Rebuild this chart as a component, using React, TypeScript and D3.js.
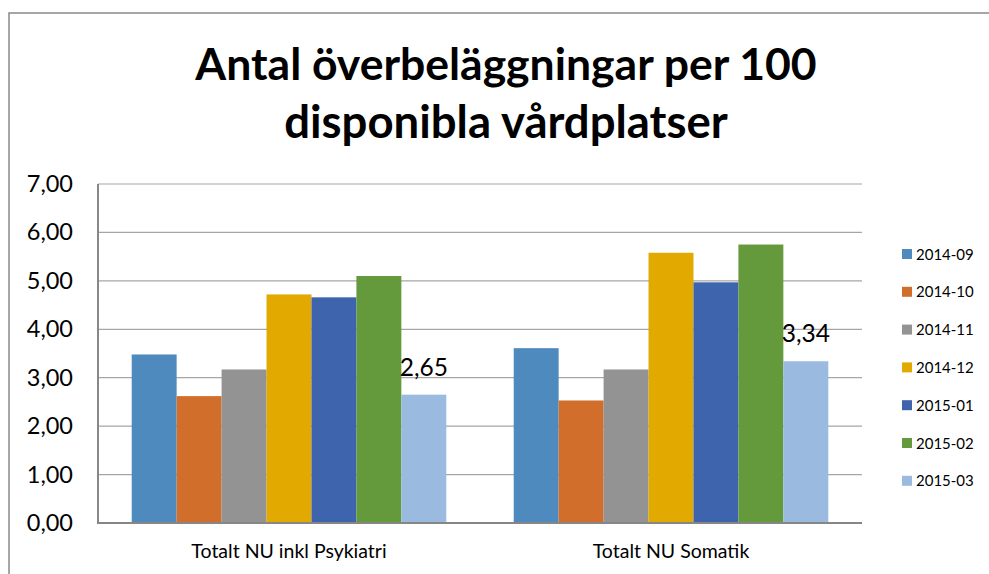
import React from "react";
import * as d3 from "d3";

const categories = ["Totalt NU inkl Psykiatri", "Totalt NU Somatik"];
const seriesNames = ["2014-09", "2014-10", "2014-11", "2014-12", "2015-01", "2015-02", "2015-03"];
const values = [
  [3.48, 3.61],
  [2.62, 2.53],
  [3.17, 3.17],
  [4.72, 5.58],
  [4.66, 4.97],
  [5.1, 5.75],
  [2.65, 3.34],
];
const colors = ["#4f8abe", "#d26e2b", "#939393", "#e2a900", "#3d64ac", "#64993c", "#9abae0"];
const yTicks = [0, 1, 2, 3, 4, 5, 6, 7];
const labelledSeries = [6];

const W = 989;
const H = 574;
const margin = { left: 98, right: 127, top: 184, bottom: 51 };
const font = "Lato, 'Open Sans', sans-serif";

export default function App() {
  const x0 = d3
    .scaleBand()
    .domain(categories)
    .range([margin.left, W - margin.right])
    .paddingInner(0)
    .paddingOuter(0);
  // Excel gap width 150%: inner bars occupy 7 / 8.5 of a category
  const inner = (x0.bandwidth() * 7) / 8.5;
  const x1 = d3
    .scaleBand()
    .domain(seriesNames)
    .range([0, inner]);
  const y = d3.scaleLinear().domain([0, 7]).range([H - margin.bottom, margin.top]);
  const fmt = (v: number) => v.toFixed(2).replace(".", ",");

  return (
    <svg width={W} height={H} style={{ position: "absolute", left: 0, top: 0, background: "#fff" }}>
      <rect x={9} y={13} width={W} height={H} fill="#fff" stroke="#898989" strokeWidth={1.5} />
      <text x={506} y={80} textAnchor="middle" fontFamily={font} fontWeight={700} fontSize={44.5} fill="#000">
        Antal överbeläggningar per 100
      </text>
      <text x={506} y={138} textAnchor="middle" fontFamily={font} fontWeight={700} fontSize={45.5} fill="#000">
        disponibla vårdplatser
      </text>

      {yTicks.map((t) => (
        <g key={t}>
          {t > 0 && (
            <line x1={margin.left} x2={W - margin.right} y1={y(t)} y2={y(t)} stroke="#a6a6a6" strokeWidth={1.2} />
          )}
          <text x={73} y={y(t) + 8} textAnchor="end" fontFamily={font} fontSize={23.5} fill="#000">
            {fmt(t)}
          </text>
        </g>
      ))}

      {categories.map((c, ci) => {
        const start = (x0(c) as number) + (x0.bandwidth() - inner) / 2;
        return (
          <g key={c}>
            {seriesNames.map((s, si) => (
              <rect
                key={s}
                x={start + (x1(s) as number)}
                y={y(values[si][ci])}
                width={x1.bandwidth()}
                height={y(0) - y(values[si][ci])}
                fill={colors[si]}
              />
            ))}
            {labelledSeries.map((si) => (
              <text
                key={si}
                x={start + (x1(seriesNames[si]) as number) + x1.bandwidth() / 2}
                y={y(values[si][ci]) - 19}
                textAnchor="middle"
                fontFamily={font}
                fontSize={24.5}
                fill="#000"
              >
                {fmt(values[si][ci])}
              </text>
            ))}
            <text
              x={(x0(c) as number) + x0.bandwidth() / 2}
              y={558}
              textAnchor="middle"
              fontFamily={font}
              fontSize={19.5}
              fill="#000"
            >
              {c}
            </text>
          </g>
        );
      })}

      <line x1={margin.left} x2={margin.left} y1={margin.top} y2={y(0)} stroke="#888" strokeWidth={2} />
      <line x1={margin.left - 1} x2={W - margin.right} y1={y(0)} y2={y(0)} stroke="#868686" strokeWidth={2} />

      {seriesNames.map((s, i) => (
        <g key={s} transform={`translate(902, ${254 + i * 37.8})`}>
          <rect x={0} y={-5} width={10} height={10} fill={colors[i]} />
          <text x={14} y={5.5} fontFamily={font} fontSize={15} fill="#000">
            {s}
          </text>
        </g>
      ))}
    </svg>
  );
}
